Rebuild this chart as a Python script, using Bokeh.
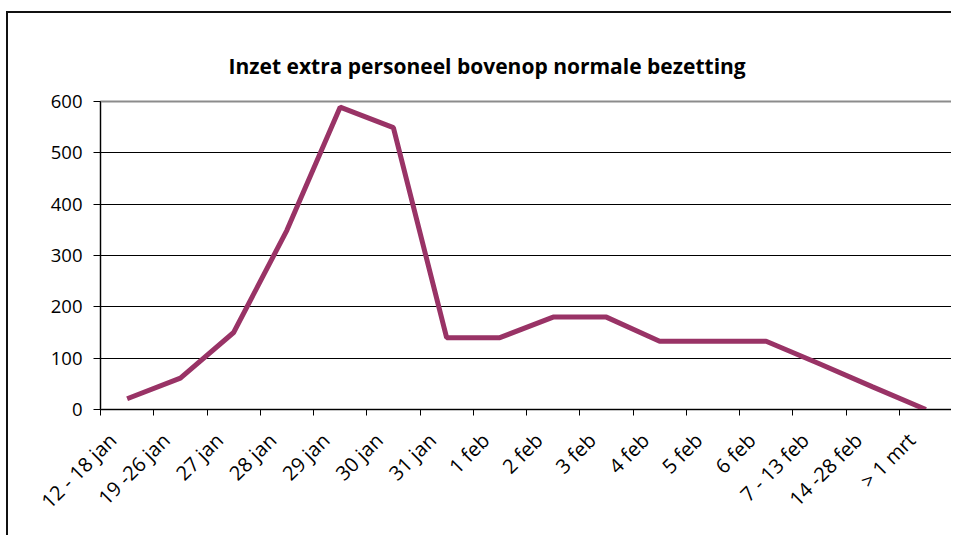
import math
import numpy as np
from bokeh.plotting import figure
from bokeh.models import FixedTicker, Range1d
from bokeh.embed import file_html
from bokeh.resources import INLINE

categories = ["12 - 18 jan", "19 -26 jan", "27 jan", "28 jan", "29 jan", "30 jan",
              "31 jan", "1 feb", "2 feb", "3 feb", "4 feb", "5 feb", "6 feb",
              "7 - 13 feb", "14 -28 feb", "> 1 mrt"]
values = [21, 61, 150, 349, 589, 549, 140, 140, 180, 180, 133, 133, 133, 89, 44, 0]
y_ticks = [0, 100, 200, 300, 400, 500, 600]
title_text = "Inzet extra personeel bovenop normale bezetting"

n = len(categories)
xs = np.arange(n) + 0.5
label_pos = xs - 0.27  # rotated labels end slightly left of the category centre

p = figure(width=945, height=524, output_backend="svg", toolbar_location=None,
           x_range=Range1d(0, n), y_range=Range1d(0, 600),
           min_border_left=92, min_border_right=1, min_border_top=88,
           min_border_bottom=128)
p.styles = {"border-left": "2px solid #111", "border-top": "2px solid #111",
            "margin-top": "11px", "margin-left": "6px"}

p.title.text = title_text
p.title.align = "left"
p.title.offset = 128
p.title.standoff = 44
p.title.text_font = "Open Sans"
p.title.text_font_size = "21px"
p.title.text_font_style = "bold"
p.title.text_color = "#000000"

p.line(xs, values, line_color="#993366", line_width=5)

p.outline_line_color = "#8c8c8c"
p.outline_line_width = 2
p.background_fill_color = "white"
p.border_fill_color = "white"

p.xgrid.visible = False
p.ygrid.ticker = FixedTicker(ticks=y_ticks[1:-1])
p.ygrid.grid_line_color = "#000000"
p.ygrid.grid_line_width = 1

# y axis
p.yaxis.ticker = FixedTicker(ticks=y_ticks)
p.yaxis.axis_line_color = "#000000"
p.yaxis.major_tick_line_color = "#000000"
p.yaxis.major_tick_in = 0
p.yaxis.major_tick_out = 7
p.yaxis.minor_tick_line_color = None
p.yaxis.major_label_standoff = 11
p.yaxis.major_label_text_font = "Open Sans"
p.yaxis.major_label_text_font_size = "18.5px"
p.yaxis.major_label_text_color = "#000000"

# x axis: labels near centres, ticks at boundaries
p.xaxis.ticker = FixedTicker(ticks=list(label_pos), minor_ticks=list(range(n + 1)))
p.xaxis.major_label_overrides = {float(x): c for x, c in zip(label_pos, categories)}
p.xaxis.major_tick_line_color = None
p.xaxis.minor_tick_line_color = "#000000"
p.xaxis.minor_tick_in = 0
p.xaxis.minor_tick_out = 6
p.xaxis.axis_line_color = "#000000"
p.xaxis.major_label_orientation = math.pi / 4
p.xaxis.major_label_standoff = 21
p.xaxis.major_label_text_font = "Open Sans"
p.xaxis.major_label_text_font_size = "20px"
p.xaxis.major_label_text_color = "#000000"

open("out.html", "w").write(file_html(p, INLINE))
